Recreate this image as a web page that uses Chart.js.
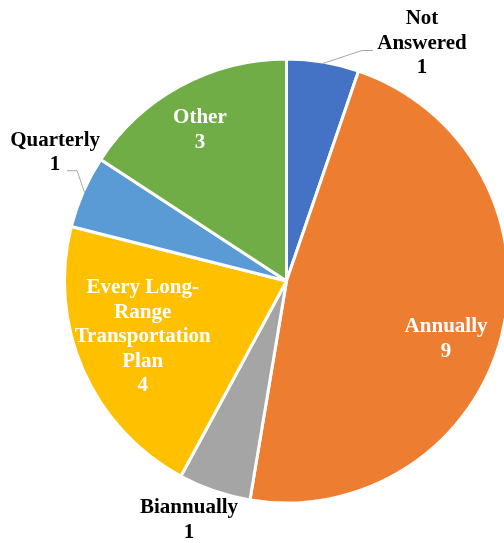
<!DOCTYPE html>
<html>
<head>
<meta charset="utf-8">
<script src="https://cdn.jsdelivr.net/npm/chart.js@4"></script>
<style>
  body { margin: 0; overflow: hidden; background: #fff; }
  #wrap { position: relative; width: 540px; height: 543px; }
</style>
</head>
<body>
<div id="wrap"><canvas id="myChart"></canvas></div>
<script>
// data
const categories = ['Not Answered', 'Annually', 'Biannually', 'Every Long-Range Transportation Plan', 'Quarterly', 'Other'];
const counts = [1, 9, 1, 4, 1, 3];
const colors = ['#4472C4', '#ED7D31', '#A5A5A5', '#FFC000', '#5B9BD5', '#70AD47'];
// how each category name is broken into lines on the chart
const labelLines = [['Not', 'Answered'], ['Annually'], ['Biannually'], ['Every Long-', 'Range', 'Transportation', 'Plan'], ['Quarterly'], ['Other']];

// label placement: angle (deg clockwise from top) and distance in radii
const placement = [
  { ang: 29.7, dist: 1.24, inside: false, leader: [[-60, 7], [-49, 7]] },
  { ang: 110, dist: 0.77, inside: true },
  { ang: 202.2, dist: 1.17, inside: false },
  { ang: 248.7, dist: 0.70, inside: true },
  { ang: 299, dist: 1.20, inside: false, leader: [[22, 18], [12, 18]] },
  { ang: 330.2, dist: 0.79, inside: true }
];

const lineH = 24.5;

// draws the value labels + leader lines
const pieLabels = {
  id: 'pieLabels',
  afterDatasetsDraw(chart) {
    const ctx = chart.ctx;
    const arcs = chart.getDatasetMeta(0).data;
    ctx.save();
    ctx.font = 'bold 21px "Liberation Serif", "Times New Roman", serif';
    ctx.textAlign = 'center';
    ctx.textBaseline = 'middle';
    arcs.forEach(function(arc, i) {
      const p = arc.getProps(['x', 'y', 'startAngle', 'endAngle', 'outerRadius'], true);
      const r = p.outerRadius - 1.5;
      const a = placement[i].ang * Math.PI / 180 - Math.PI / 2;
      const cx = p.x + Math.cos(a) * r * placement[i].dist;
      const cy = p.y + Math.sin(a) * r * placement[i].dist;
      const lines = labelLines[i].concat([String(counts[i])]);

      if (placement[i].leader) {
        const mid = (p.startAngle + p.endAngle) / 2;
        ctx.strokeStyle = '#A6A6A6';
        ctx.lineWidth = 1;
        ctx.beginPath();
        ctx.moveTo(p.x + Math.cos(mid) * r, p.y + Math.sin(mid) * r);
        placement[i].leader.forEach(function(pt) {
          ctx.lineTo(cx + pt[0], cy + pt[1]);
        });
        ctx.stroke();
      }

      ctx.fillStyle = placement[i].inside ? '#FFFFFF' : '#000000';
      const top = cy - (lines.length - 1) * lineH / 2;
      lines.forEach(function(t, k) {
        ctx.fillText(t, cx, top + k * lineH);
      });
    });
    ctx.restore();
  }
};

const ctx = document.getElementById('myChart').getContext('2d');

// eslint-disable-next-line no-undef
const chart = new Chart(ctx, {
  type: 'pie',
  data: {
    labels: categories,
    datasets: [{
      data: counts,
      backgroundColor: colors,
      borderColor: '#FFFFFF',
      borderWidth: 3,
      hoverOffset: 0,
      offset: 0
    }]
  },
  options: {
    responsive: true,
    maintainAspectRatio: false,
    animation: false,
    layout: { padding: { left: 63, top: 57.5, right: 30, bottom: 38.5 } },
    plugins: {
      legend: { display: false },
      tooltip: { enabled: false }
    }
  },
  plugins: [pieLabels]
});
</script>
</body>
</html>
